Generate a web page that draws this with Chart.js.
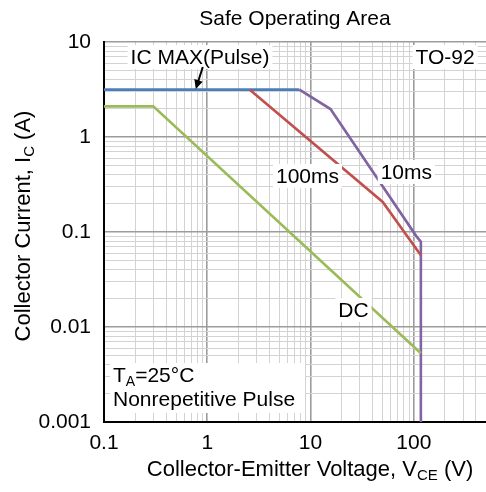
<!DOCTYPE html>
<html>
<head>
<meta charset="utf-8">
<script src="https://cdn.jsdelivr.net/npm/chart.js@4"></script>
<style>
  html, body { margin: 0; padding: 0; background: #fff; }
  #wrap { width: 486px; height: 492px; }
</style>
</head>
<body>
<div id="wrap"><canvas id="soa"></canvas></div>
<script>
// values (VCE in volts, IC in amps)
const vcePulseMax = [0.1, 7.8];
const icPulseMax = [3.15, 3.15];
const vce10ms = [7.8, 15.6, 106, 117, 117];
const ic10ms = [3.15, 1.97, 0.09, 0.079, 0.001];
const vce100ms = [2.58, 50, 117];
const ic100ms = [3.15, 0.207, 0.057];
const vceDC = [0.1, 0.3, 117];
const icDC = [2.1, 2.1, 0.0053];

const xTickLabels = ['0.1', '1', '10', '100'];
const yTickLabels = ['0.001', '0.01', '0.1', '1', '10'];

const FONT = "'Liberation Sans', Arial, sans-serif";

const toPoints = (xs, ys) => xs.map((x, i) => ({ x, y: ys[i] }));

// all 1..9 multiples inside a range, for the log grid
function logGrid(min, max) {
  const out = [];
  for (let e = Math.floor(Math.log10(min)); e <= Math.ceil(Math.log10(max)); e++) {
    for (let m = 1; m <= 9; m++) {
      const v = Number((m * 10 ** e).toPrecision(3));
      if (v >= min && v <= max) out.push(v);
    }
  }
  return out;
}

function isDecade(v) {
  const l = Math.log10(v);
  return Math.abs(l - Math.round(l)) < 1e-6;
}

function labelFor(list, value) {
  const hit = list.find((s) => Math.abs(Number(s) - value) < value * 1e-6);
  return hit || '';
}

const notes = [
  { text: 'IC MAX(Pulse)', x: 0.85, y: 6.95 },
  { text: 'TO-92', x: 201, y: 6.95 },
  { text: '100ms', x: 9.35, y: 0.389 },
  { text: '10ms', x: 84.7, y: 0.428 },
  { text: 'DC', x: 26, y: 0.0151 },
];

const annotations = {
  id: 'annotations',
  afterDatasetsDraw(chart) {
    const { ctx, scales: { x, y } } = chart;
    ctx.save();
    ctx.font = `21px ${FONT}`;
    ctx.textBaseline = 'middle';
    ctx.textAlign = 'left';
    notes.forEach((n) => {
      const px = x.getPixelForValue(n.x);
      const py = y.getPixelForValue(n.y);
      const w = ctx.measureText(n.text).width;
      const left = px - w / 2;
      ctx.fillStyle = '#fff';
      ctx.fillRect(left - 3, py - 12, w + 6, 24);
      ctx.fillStyle = '#000';
      ctx.fillText(n.text, left, py + 1);
    });

    // arrow from the IC MAX label to the blue line
    const ax1 = x.getPixelForValue(0.905);
    const ay1 = y.getPixelForValue(5.45);
    const ax2 = x.getPixelForValue(0.774);
    const ay2 = y.getPixelForValue(3.2);
    const ang = Math.atan2(ay2 - ay1, ax2 - ax1);
    ctx.strokeStyle = '#000';
    ctx.lineWidth = 2;
    ctx.beginPath();
    ctx.moveTo(ax1, ay1);
    ctx.lineTo(ax2 - 6 * Math.cos(ang), ay2 - 6 * Math.sin(ang));
    ctx.stroke();
    ctx.fillStyle = '#000';
    ctx.beginPath();
    ctx.moveTo(ax2, ay2);
    ctx.lineTo(ax2 - 10 * Math.cos(ang - 0.45), ay2 - 10 * Math.sin(ang - 0.45));
    ctx.lineTo(ax2 - 10 * Math.cos(ang + 0.45), ay2 - 10 * Math.sin(ang + 0.45));
    ctx.closePath();
    ctx.fill();

    // conditions in the lower left corner
    const tx = chart.chartArea.left + 9;
    const ty = y.getPixelForValue(0.00305);
    ctx.fillStyle = '#fff';
    ctx.fillRect(tx - 3, ty - 13, 195, 50);
    ctx.fillStyle = '#000';
    let cx = tx;
    ctx.fillText('T', cx, ty);
    cx += ctx.measureText('T').width;
    ctx.font = `14px ${FONT}`;
    ctx.fillText('A', cx, ty + 6);
    cx += ctx.measureText('A').width;
    ctx.font = `21px ${FONT}`;
    ctx.fillText('=25°C', cx, ty);
    ctx.fillText('Nonrepetitive Pulse', tx, y.getPixelForValue(0.0017));
    ctx.restore();
  },
};

// title and axis titles with subscripts
function drawSubText(ctx, parts, cx, cy) {
  let total = 0;
  parts.forEach((p) => {
    ctx.font = p.sub ? `15px ${FONT}` : `22px ${FONT}`;
    total += ctx.measureText(p.t).width;
  });
  let px = cx - total / 2;
  parts.forEach((p) => {
    ctx.font = p.sub ? `15px ${FONT}` : `22px ${FONT}`;
    ctx.fillText(p.t, px, p.sub ? cy + 6 : cy);
    px += ctx.measureText(p.t).width;
  });
}

const titles = {
  id: 'titles',
  afterDraw(chart) {
    const { ctx, chartArea } = chart;
    ctx.save();
    ctx.fillStyle = '#000';
    ctx.textBaseline = 'middle';
    ctx.textAlign = 'left';
    ctx.font = `21px ${FONT}`;
    const tw = ctx.measureText('Safe Operating Area').width;
    ctx.fillText('Safe Operating Area', (chartArea.left + chartArea.right) / 2 - tw / 2, 19);
    drawSubText(ctx, [
      { t: 'Collector-Emitter Voltage, V' }, { t: 'CE', sub: true }, { t: ' (V)' },
    ], 310, 470);
    ctx.translate(24, (chartArea.top + chartArea.bottom) / 2 - 6);
    ctx.rotate(-Math.PI / 2);
    drawSubText(ctx, [
      { t: 'Collector Current, I' }, { t: 'C', sub: true }, { t: ' (A)' },
    ], 0, 0);
    ctx.restore();
  },
};

const gridColor = (c) => (c.tick && isDecade(c.tick.value) ? '#9c9c9c' : '#d3d3d3');
const gridWidth = (c) => (c.tick && isDecade(c.tick.value) ? 1.6 : 1);

new Chart(document.getElementById('soa'), {
  type: 'scatter',
  data: {
    datasets: [
      { label: 'DC', data: toPoints(vceDC, icDC), borderColor: '#9bbb59' },
      { label: '100ms', data: toPoints(vce100ms, ic100ms), borderColor: '#c0504d' },
      { label: 'IC MAX(Pulse)', data: toPoints(vcePulseMax, icPulseMax), borderColor: '#4a7ebb' },
      { label: '10ms', data: toPoints(vce10ms, ic10ms), borderColor: '#8064a2' },
    ].map((d) => ({
      ...d, showLine: true, pointRadius: 0, borderWidth: 2.6, tension: 0,
    })),
  },
  options: {
    responsive: true,
    maintainAspectRatio: false,
    animation: false,
    layout: { padding: { top: 42, left: 0, right: 0, bottom: 0 } },
    plugins: { legend: { display: false }, tooltip: { enabled: false } },
    scales: {
      x: {
        type: 'logarithmic',
        min: 0.1,
        max: 500,
        afterBuildTicks(scale) { scale.ticks = logGrid(0.1, 500).map((v) => ({ value: v })); },
        afterFit(scale) {
          scale.height = 70;
          scale.paddingLeft = 0;
          scale.paddingRight = 0;
        },
        grid: { color: gridColor, lineWidth: gridWidth, drawTicks: false },
        border: { color: '#000', width: 2 },
        ticks: {
          autoSkip: false,
          maxRotation: 0,
          padding: 9,
          color: '#000',
          font: { family: FONT, size: 21 },
          callback: (v) => labelFor(xTickLabels, v),
        },
      },
      y: {
        type: 'logarithmic',
        min: 0.001,
        max: 10,
        afterBuildTicks(scale) { scale.ticks = logGrid(0.001, 10).map((v) => ({ value: v })); },
        afterFit(scale) {
          scale.width = 104;
          scale.paddingTop = 0;
          scale.paddingBottom = 0;
        },
        grid: { color: gridColor, lineWidth: gridWidth, drawTicks: false },
        border: { color: '#000', width: 2 },
        ticks: {
          autoSkip: false,
          padding: 13,
          color: '#000',
          font: { family: FONT, size: 21 },
          callback: (v) => labelFor(yTickLabels, v),
        },
      },
    },
  },
  plugins: [annotations, titles],
});
</script>
</body>
</html>
